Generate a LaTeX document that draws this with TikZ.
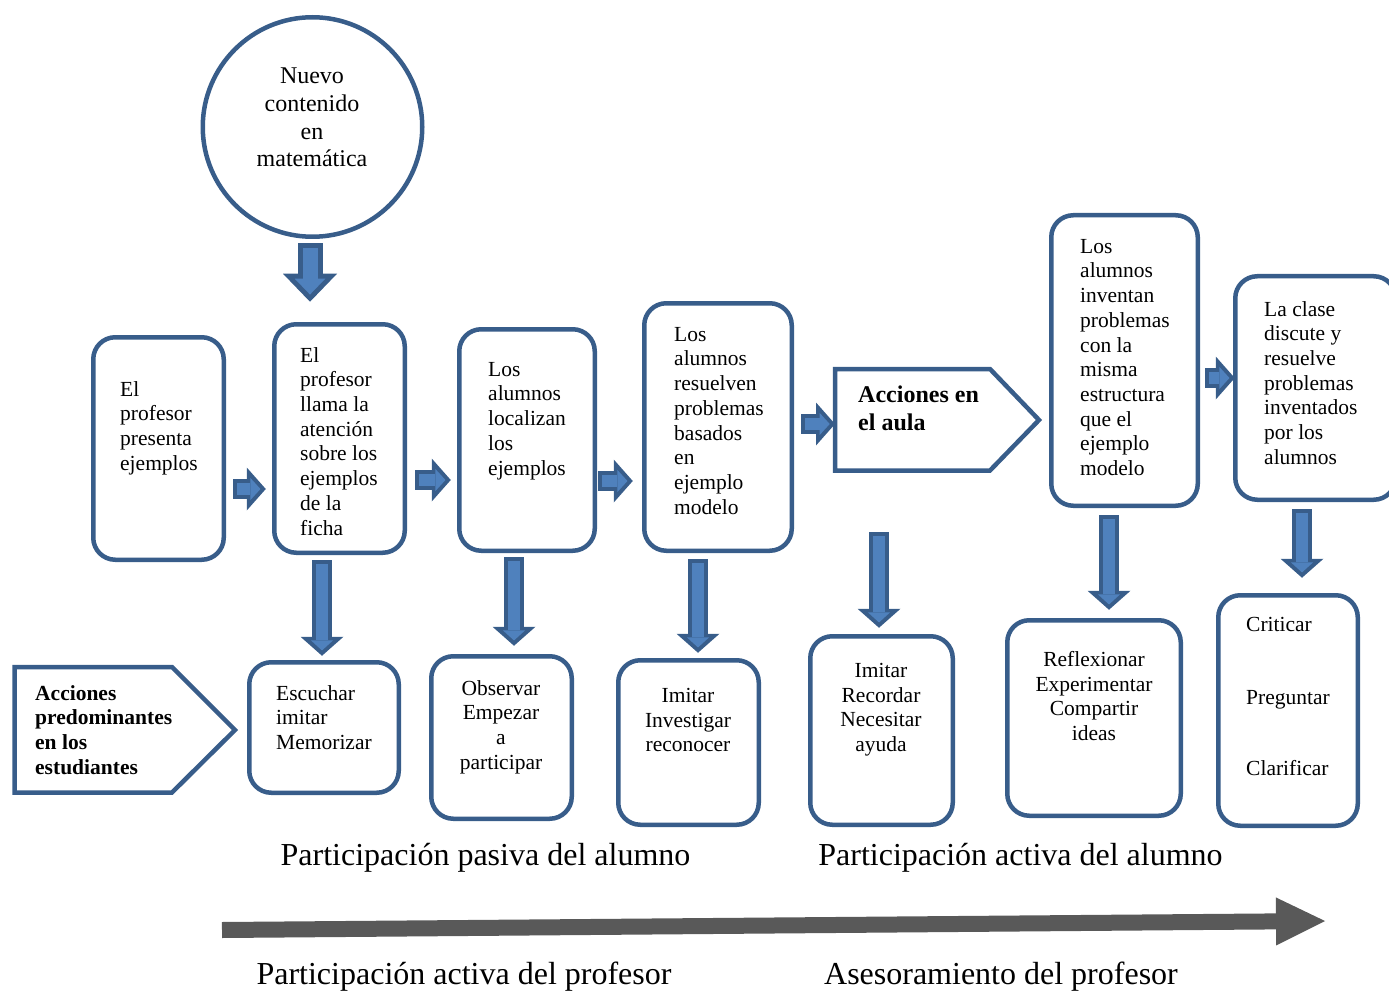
\documentclass[tikz,border=0pt]{standalone}
\usepackage{fontspec}
\setmainfont{Liberation Serif}
\usetikzlibrary{arrows.meta,calc}
\definecolor{boxblue}{RGB}{56,93,138}
\definecolor{arrowblue}{RGB}{79,129,189}
\definecolor{axisgrey}{RGB}{89,89,89}

\begin{document}
\begin{tikzpicture}[x=1pt, y=-1pt,
		box/.style={draw=boxblue, line width=4.5pt, rounded corners=22pt, inner sep=0pt, fill=white},
		tag/.style={draw=boxblue, line width=4.5pt, line join=miter, fill=white},
		txt/.style={font=\fontsize{21.5pt}{24.7pt}\selectfont, align=left, inner sep=0pt, anchor=north west},
		ctxt/.style={txt, align=center, anchor=north},
		btxt/.style={txt, font=\fontsize{21.5pt}{24.7pt}\selectfont\bfseries},
		lbl/.style={font=\fontsize{32pt}{38pt}\selectfont, inner sep=0pt, anchor=base},
		blockarrow/.style={draw=arrowblue, line width=12pt,
			-{Triangle[width=22pt,length=10pt,line width=0pt]}, shorten >=5.3pt, shorten <=4pt,
			preaction={draw=boxblue, line width=20pt,
				-{Triangle[width=43pt,length=19pt,line width=0pt]}, shorten >=0pt, shorten <=0pt}},
		bigarrow/.style={draw=arrowblue, line width=15pt,
			-{Triangle[width=30.5pt,length=15.8pt,line width=0pt]}, shorten >=7.2pt, shorten <=5pt,
			preaction={draw=boxblue, line width=25pt,
				-{Triangle[width=54pt,length=28pt,line width=0pt]}, shorten >=0pt, shorten <=0pt}},
		axisarrow/.style={draw=axisgrey, line width=16pt, -{Triangle[width=48pt,length=49pt,line width=0pt]}}
	]
	\useasboundingbox (0,0) rectangle (1389,992);

	% circle on top
	\node[draw=boxblue, line width=4.5pt, circle, minimum size=219.5pt, inner sep=0pt] (circ) at (312.5,127) {};
	\node[ctxt, font=\fontsize{24pt}{27.6pt}\selectfont] (circ-text) at (312,68) {Nuevo\\contenido\\en\\matemática};

	% upper row
	\node[box, minimum width=130.5pt, minimum height=222.5pt] (b1) at (158.5,448.5) {};
	\node[box, minimum width=130.5pt, minimum height=228.5pt] (b2) at (339.5,438.5) {};
	\node[box, minimum width=135.5pt, minimum height=221.5pt] (b3) at (527,440) {};
	\node[box, minimum width=147.5pt, minimum height=247.5pt] (b4) at (718,427) {};
	\node[box, minimum width=146.5pt, minimum height=290.5pt] (b5) at (1124.5,360.5) {};
	\node[box, minimum width=160.5pt, minimum height=223.5pt] (b6) at (1315.5,388) {};
	\draw[tag] (835,369) -- (990,369) -- (1039,420) -- (990,470.5) -- (835,470.5) -- cycle;
	\coordinate (aula-in) at (835,424);
	\coordinate (aula-down) at (879,532);

	\node[txt] (b1-text) at (120,381) {El\\profesor\\presenta\\ejemplos};
	\node[txt] (b2-text) at (300,347) {El\\profesor\\llama la\\atención\\sobre los\\ejemplos\\de la\\ficha};
	\node[txt] (b3-text) at (488,362) {Los\\alumnos\\localizan\\los\\ejemplos};
	\node[txt] (b4-text) at (674,327) {Los\\alumnos\\resuelven\\problemas\\basados\\en\\ejemplo\\modelo};
	\node[btxt, font=\fontsize{24pt}{28pt}\selectfont\bfseries] (aula) at (858,386) {Acciones en\\el aula};
	\node[txt] (b5-text) at (1080,239) {Los\\alumnos\\inventan\\problemas\\con la\\misma\\estructura\\que el\\ejemplo\\modelo};
	\node[txt] (b6-text) at (1264,301) {La clase\\discute y\\resuelve\\problemas\\inventados\\por los\\alumnos};

	% lower row
	\draw[tag] (14.5,667) -- (172,667) -- (235,730) -- (172,792.5) -- (14.5,792.5) -- cycle;
	\node[box, minimum width=149.5pt, minimum height=130.5pt] (c1) at (324,727.5) {};
	\node[box, minimum width=140.5pt, minimum height=162.5pt] (c2) at (501.5,737.5) {};
	\node[box, minimum width=140.5pt, minimum height=164.5pt] (c3) at (688.5,742.5) {};
	\node[box, minimum width=142.5pt, minimum height=188.5pt] (c4) at (881.5,730.5) {};
	\node[box, minimum width=173.5pt, minimum height=195.5pt] (c5) at (1094,718) {};
	\node[box, minimum width=139.5pt, minimum height=230.5pt] (c6) at (1288,710.5) {};

	\node[btxt] (predom) at (35,685) {Acciones\\predominantes\\en los\\estudiantes};
	\node[txt] (c1-text) at (276,685) {Escuchar\\imitar\\Memorizar};
	\node[ctxt] (c2-text) at (501,680) {Observar\\Empezar\\a\\participar};
	\node[ctxt] (c3-text) at (688,688) {Imitar\\Investigar\\reconocer};
	\node[ctxt] (c4-text) at (881,663) {Imitar\\Recordar\\Necesitar\\ayuda};
	\node[ctxt] (c5-text) at (1094,651) {Reflexionar\\Experimentar\\Compartir\\ideas};
	\node[txt] (c6-text) at (1246,617) {Criticar\\[48pt]Preguntar\\[47pt]Clarificar};

	% block arrows
	\draw[bigarrow] ($(circ.south -| 310,0)+(0,4.25)$) -- ($(b2.north -| 310,0)+(0,-20.25)$);
	\draw[blockarrow] ($(b1.east |- 0,489)+(7.25,0)$) -- ($(b2.west |- 0,489)+(-6.25,0)$);
	\draw[blockarrow] ($(b2.east |- 0,480)+(8.25,0)$) -- ($(b3.west |- 0,480)+(-6.25,0)$);
	\draw[blockarrow] ($(b3.east |- 0,481)+(1.25,0)$) -- ($(b4.west |- 0,481)+(-9.25,0)$);
	\draw[blockarrow] ($(b4.east |- 0,424)+(7.25,0)$) -- (aula-in);
	\draw[blockarrow] ($(b5.east |- 0,378)+(5.25,0)$) -- ($(b6.west |- 0,378)+(1.75,0)$);
	\draw[blockarrow] ($(b2.south -| 322,0)+(0,5.25)$) -- ($(c1.north -| 322,0)+(0,-4.25)$);
	\draw[blockarrow] ($(b3.south -| 514,0)+(0,4.25)$) -- ($(c2.north -| 514,0)+(0,-8.25)$);
	\draw[blockarrow] ($(b4.south -| 698,0)+(0,6.25)$) -- ($(c3.north -| 698,0)+(0,-5.25)$);
	\draw[blockarrow] (aula-down) -- ($(c4.north -| 879,0)+(0,-6.25)$);
	\draw[blockarrow] ($(b5.south -| 1109,0)+(0,7.25)$) -- ($(c5.north -| 1109,0)+(0,-8.25)$);
	\draw[blockarrow] ($(b6.south -| 1302,0)+(0,7.25)$) -- ($(c6.north -| 1302,0)+(0,-15.25)$);

	% labels and axis
	\node[lbl] (pasiva) at (485.5,865) {Participación pasiva del alumno};
	\node[lbl] (activa) at (1020.5,865) {Participación activa del alumno};
	\coordinate (axis-l) at (222,930);
	\coordinate (axis-r) at (1325,921);
	\draw[axisarrow] (axis-l) -- (axis-r);
	\node[lbl] (profesor) at (464,984) {Participación activa del profesor};
	\node[lbl] (asesor) at (1001,984) {Asesoramiento del profesor};
\end{tikzpicture}
\end{document}
